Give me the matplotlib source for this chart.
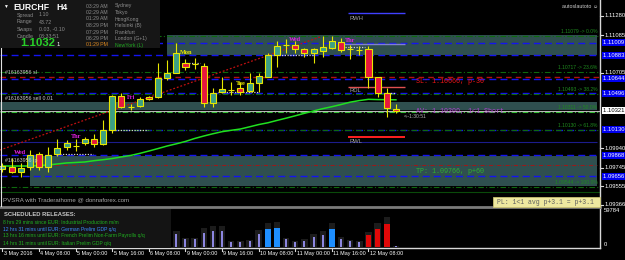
import numpy as np
import matplotlib
matplotlib.use("Agg")
import matplotlib.pyplot as plt
from matplotlib.patches import Rectangle
from matplotlib.transforms import blended_transform_factory

plt.rcParams["font.family"] = ["Liberation Sans", "DejaVu Sans"]

W, H = 625, 260

# ─── Datos (EURCHF H4, 3 May 16:00 -> 12 May 20:00) ──────────────────────────
opens = [1.09730, 1.09750, 1.09700, 1.09750, 1.09882, 1.09750, 1.09882, 1.09953, 1.09963, 1.09993,
         1.10034, 1.09983, 1.10125, 1.10470, 1.10358, 1.10368, 1.10459, 1.10459, 1.10652, 1.10702,
         1.10804, 1.10794, 1.10773, 1.10399, 1.10510, 1.10530, 1.10551, 1.10520, 1.10601, 1.10662,
         1.10885, 1.10986, 1.10986, 1.10946, 1.10905, 1.10925, 1.10956, 1.11017, 1.10946, 1.10936,
         1.10946, 1.10662, 1.10500, 1.10338]
highs = [1.09791, 1.09841, 1.09791, 1.09922, 1.09902, 1.09953, 1.10034, 1.10024, 1.10034, 1.10054,
         1.10085, 1.10226, 1.10480, 1.10500, 1.10389, 1.10459, 1.10470, 1.10804, 1.10834, 1.11006,
         1.10844, 1.10854, 1.10804, 1.10551, 1.10662, 1.10611, 1.10611, 1.10702, 1.10702, 1.10905,
         1.11027, 1.11047, 1.11027, 1.10956, 1.10956, 1.11077, 1.11077, 1.11057, 1.10986, 1.10976,
         1.10976, 1.10662, 1.10551, 1.10389]
lows = [1.09700, 1.09690, 1.09649, 1.09720, 1.09720, 1.09700, 1.09862, 1.09922, 1.09912, 1.09973,
        1.09953, 1.09973, 1.10095, 1.10348, 1.10328, 1.10358, 1.10429, 1.10449, 1.10632, 1.10702,
        1.10733, 1.10743, 1.10358, 1.10358, 1.10500, 1.10480, 1.10480, 1.10510, 1.10510, 1.10662,
        1.10763, 1.10905, 1.10905, 1.10865, 1.10804, 1.10865, 1.10946, 1.10915, 1.10844, 1.10885,
        1.10551, 1.10459, 1.10257, 1.10297]
closes = [1.09760, 1.09700, 1.09740, 1.09872, 1.09750, 1.09872, 1.09943, 1.09993, 1.09965, 1.10034,
          1.09983, 1.10125, 1.10470, 1.10358, 1.10360, 1.10439, 1.10439, 1.10652, 1.10702, 1.10905,
          1.10763, 1.10796, 1.10399, 1.10500, 1.10540, 1.10532, 1.10510, 1.10601, 1.10672, 1.10885,
          1.10976, 1.10988, 1.10946, 1.10905, 1.10946, 1.10966, 1.11027, 1.10936, 1.10948, 1.10938,
          1.10662, 1.10500, 1.10348, 1.10321]

# media móvil (línea verde)
ma_vals = [1.09760, 1.09760, 1.09760, 1.09760, 1.09765, 1.09771, 1.09781, 1.09791, 1.09796, 1.09801,
           1.09814, 1.09824, 1.09836, 1.09852, 1.09867, 1.09888, 1.09912, 1.09937, 1.09963, 1.09985,
           1.10009, 1.10039, 1.10064, 1.10087, 1.10108, 1.10122, 1.10135, 1.10157, 1.10180, 1.10198,
           1.10222, 1.10245, 1.10269, 1.10294, 1.10318, 1.10341, 1.10361, 1.10383, 1.10407, 1.10423,
           1.10436, 1.10433, 1.10432, 1.10431]

# volumen visible (barras 19..43), sombra y tipo (n normal, b climax alcista, r climax bajista)
vol_first = 19
volumes = [20450, 12580, 12580, 22020, 25170, 25170, 7870, 7870, 9440, 20450,
           28310, 29890, 12580, 7870, 9440, 15730, 18880, 28310, 12580, 9440,
           7870, 18880, 28310, 36180, 1570]
vol_shadow = [25170, 14160, 14160, 29890, 33030, 33030, 9440, 9440, 11010, 26740,
              37750, 39330, 14160, 9440, 12580, 20450, 25170, 37750, 15730, 11010,
              9440, 23600, 37750, 47190, 1570]
vol_kind = "nnnnnnnnnnbbnnnnnbnnnrrrn"
vol_max = 59784

date_ticks = [0, 4, 8, 12, 16, 20, 24, 28, 32, 36, 40]
date_labels = ["3 May 2016", "4 May 08:00", "5 May 00:00", "5 May 16:00", "6 May 08:00",
               "9 May 00:00", "9 May 16:00", "10 May 08:00", "11 May 00:00", "11 May 16:00",
               "12 May 08:00"]

axis_prices = [1.11280, 1.11085, 1.10705, 1.09940, 1.09745, 1.09555, 1.09366]
level_prices = [1.11009, 1.10883, 1.10644, 1.10496, 1.10130, 1.09868, 1.09656]
fib_prices = [1.11079, 1.10717, 1.10493, 1.10311, 1.10130, 1.09544]
fib_names = ["0.0%", "23.6%", "38.2%", "50.0%", "61.8%", "100.0%"]

zones = [(18.0, 65.0, 1.10885, 1.11087), (-0.3, 65.0, 1.10328, 1.10409), (3.0, 65.0, 1.09558, 1.09862)]
trend_x = [-0.27, 34.7]
trend_y = [1.09922, 1.11067]

# tramos punteados (aperturas de sesión)
seg_x0 = [5.96, 11.97, 20.05, 23.55, 28.7, 37.4, 41.8]
seg_x1 = [9.89, 15.9, 21.6, 27.9, 33.9, 39.6, 42.9]
seg_y = [1.09882, 1.10125, 1.10804, 1.10510, 1.10885, 1.10966, 1.10500]

day_names = ["Wed", "Thr", "Fri", "Mon", "Tue", "Wed", "Thr"]
day_x = [1.3, 7.5, 13.6, 19.4, 25.5, 31.3, 37.4]
day_y = [1.09892, 1.10064, 1.10459, 1.10915, 1.10601, 1.11037, 1.11027]
day_col = ["#e020e0", "#e020e0", "#e020e0", "#e8e800", "#e8e800", "#e020e0", "#e020e0"]

sl_price, tp_price, entry_price = 1.10666, 1.09766, 1.10309
rwh, rdl, rwl = 1.11310, 1.10561, 1.10054

# ─── Figura ─────────────────────────────────────────────────────────────────
fig = plt.figure(figsize=(W / 100, H / 100), dpi=100, facecolor="black")
X0, X1 = -0.27, 65.3
ax = fig.add_axes([0, (H - 206) / H, 600 / W, 206 / H], facecolor="black")
ax.set_xlim(X0, X1)
ax.set_ylim(1.09355, 1.11442)
ax.axis("off")


def px(x, y):
    return x / W, 1 - y / H


MONO = "Liberation Mono"

for xa, xb, ya, yb in zones:
    ax.add_patch(Rectangle((xa, ya), xb - xa, yb - ya, color="#2f4f4f", lw=0, zorder=1))

for p in level_prices:
    ax.hlines(p, X0, X1, colors="#1414f0", lw=1.0, linestyles=(0, (5, 3)), zorder=2)
ax.hlines(1.10003, X0, 65.0, colors="#1c1c8c", lw=0.8, zorder=2)
for p, name in zip(fib_prices, fib_names):
    col = "#30c030" if name == "50.0%" else "#0e6a0e"
    ax.hlines(p, X0, X1, colors=col, lw=0.8, linestyles=(0, (5, 2, 1, 2)), zorder=2)
    ax.text(65.0, p + 0.0002, f"{p:.5f} -> {name}", color="#1f8a1f", fontsize=3.6,
            ha="right", va="bottom", zorder=6)
ax.hlines(1.09498, X0, X1, colors="#0a4a0a", lw=0.8, zorder=2)
ax.hlines(sl_price, X0, X1, colors="#b01010", lw=1.0, linestyles=(0, (4, 3)), zorder=3)
ax.hlines(tp_price, 3.0, 65.0, colors="#b01010", lw=0.6, linestyles=(0, (5, 2, 1, 2)), zorder=3)
ax.hlines(closes[-1], X0, X1, colors="#b8b8b8", lw=0.8, zorder=3)

ax.hlines(rwh, 37.8, 44.0, colors="#4040ff", lw=1.0, zorder=3)
ax.hlines(rdl, 37.8, 44.0, colors="#e05050", lw=1.0, zorder=3)
ax.hlines(rwl, 37.8, 44.0, colors="#ff2020", lw=1.4, zorder=3)
ax.hlines(1.11000, 37.0, 44.0, colors="#8080d0", lw=1.0, zorder=3)
ax.hlines(seg_y, seg_x0, seg_x1, colors="#d0d0d0", lw=0.9, linestyles=(0, (1, 1.2)), zorder=4)

ax.plot(trend_x, trend_y, color="#c01010", lw=0.9, ls=(0, (1.5, 1.5)), zorder=4)
ax.plot(range(len(ma_vals)), ma_vals, color="#20e020", lw=1.1, zorder=5)

# velas
for i, (o, h, l, c) in enumerate(zip(opens, highs, lows, closes)):
    face = "#3c9f84" if c >= o else "#e8173e"
    ax.vlines(i, l, h, colors="#e8e800", lw=0.8, zorder=6)
    lo, hi = min(o, c), max(o, c)
    ax.add_patch(Rectangle((i - 0.33, lo), 0.66, max(hi - lo, 0.00001), facecolor=face,
                           edgecolor="#e8e800", lw=0.8, zorder=7))

for name, x, y, col in zip(day_names, day_x, day_y, day_col):
    ax.text(x, y, name, color=col, fontsize=4.5, fontweight="bold", family="Liberation Serif",
            ha="left", va="center", zorder=8)

# textos de órdenes y niveles
ax.text(0.3, sl_price + 0.0002, "#16163956 sl", color="#c8c8c8", fontsize=3.8, va="bottom", zorder=8)
ax.text(0.3, 1.10409 + 0.0001, "#16163956 sell 0.01", color="#c8c8c8", fontsize=3.8, va="bottom", zorder=8)
ax.text(0.3, tp_price + 0.0002, "#16163956 tp", color="#c8c8c8", fontsize=3.8, va="bottom", zorder=8)
ax.text(37.9, rwh - 0.0003, "RWH", color="#a0a0a0", fontsize=4.2, va="top", zorder=8)
ax.text(37.9, rdl - 0.0001, "RDL", color="#a0a0a0", fontsize=4.2, va="top", zorder=8)
ax.text(37.9, rwl - 0.0002, "RWL", color="#a0a0a0", fontsize=4.2, va="top", zorder=8)
ax.text(45.2, sl_price - 0.00015, "SL: 1.10666, p-30", color="#ee1515", fontsize=4.9,
        family=MONO, va="top", zorder=8)
ax.text(45.2, tp_price - 0.00025, "TP: 1.09766, p+60", color="#30b030", fontsize=4.9,
        family=MONO, va="top", zorder=8)
ax.text(45.2, entry_price, "AV: 1.10309, 1<1 Short", color="#b040d0", fontsize=4.9,
        family=MONO, va="center", zorder=8)
ax.text(43.8, entry_price - 0.0002, "<--1:30:51", color="#b0b0b0", fontsize=3.6, va="top", zorder=8)

# ─── Volumen ───────────────────────────────────────────────────────────────
vax = fig.add_axes([0, (H - 248) / H, 600 / W, 40 / H], facecolor="black")
vax.set_xlim(X0, X1)
vax.set_ylim(-1600, 61350)
vax.axis("off")
vidx = np.arange(vol_first, vol_first + len(volumes))
vax.bar(vidx, vol_shadow, width=0.7, color="#1c1c1c", zorder=1)
for i, v, k in zip(vidx, volumes, vol_kind):
    if k == "n":
        vax.bar(i, v, width=0.22, color="#8c86e0", zorder=2)
    else:
        vax.bar(i, v, width=0.6, color="#1e8fff" if k == "b" else "#e00808", zorder=2)

# ─── Marco, ejes y etiquetas ─────────────────────────────────────────────────
fig.add_artist(plt.Line2D([600 / W] * 2, [1 - 248 / H, 1], color="#d8d8d8", lw=1))
fig.add_artist(plt.Line2D([0, 600 / W], [1 - 248 / H] * 2, color="#d8d8d8", lw=1))
fig.add_artist(plt.Line2D([0, 600 / W], [1 - 207 / H] * 2, color="#7a7a7a", lw=2))
fig.add_artist(plt.Line2D([1.5 / W] * 2, [1 - 206 / H, 1 - 48 / H], color="#e0e0e0", lw=0.8))

tr = blended_transform_factory(fig.transFigure, ax.transData)
for p in axis_prices:
    fig.add_artist(plt.Line2D([600 / W, 603 / W], [p, p], transform=tr, color="#d8d8d8", lw=0.8))
    fig.text(605 / W, p, f"{p:.5f}", transform=tr, color="white", fontsize=4.2, va="center")
for p in level_prices:
    fig.text(603 / W, p, f"{p:.5f} ", transform=tr, color="white", fontsize=4.2, va="center",
             bbox=dict(boxstyle="square,pad=0.15", fc="#0000f0", ec="none"))
fig.text(603 / W, closes[-1], f"{closes[-1]:.5f} ", transform=tr, color="black", fontsize=4.2,
         va="center", bbox=dict(boxstyle="square,pad=0.15", fc="white", ec="none"))
fig.text(*px(604, 211), str(vol_max), color="white", fontsize=4.2, va="center")
fig.text(*px(604, 244), "0", color="white", fontsize=4.2, va="center")

dtr = blended_transform_factory(vax.transData, fig.transFigure)
for t, lab in zip(date_ticks, date_labels):
    fig.add_artist(plt.Line2D([t, t], [1 - 248 / H, 1 - 251 / H], transform=dtr, color="#d8d8d8", lw=0.8))
    fig.text(t + 0.15, 1 - 253.5 / H, lab, transform=dtr, color="white", fontsize=3.9, va="center")

# panel superior izquierdo
fig.add_artist(Rectangle((0, 1 - 48 / H), 160 / W, 48 / H, transform=fig.transFigure,
                         color="#161616", lw=0, zorder=5))
fig.text(*px(3, 6), "▼", color="white", fontsize=3.5, va="center", zorder=6)
fig.text(*px(13, 7), "EURCHF", color="white", fontsize=6.2, fontweight="bold", va="center", zorder=6)
fig.text(*px(56, 7), "H4", color="white", fontsize=6.2, fontweight="bold", va="center", zorder=6)
for k, (lab, val) in enumerate(zip(["Spread", "Range", "Swaps", "Candle"],
                                   ["1.10", "43.72", "0.03, -0.10", "03:33:51"])):
    fig.text(*px(17, 15 + 7 * k), lab, color="#8c8c8c", fontsize=3.8, va="center", zorder=6)
    fig.text(*px(39, 15 + 7 * k), val, color="#8c8c8c", fontsize=3.8, va="center", zorder=6)
fig.text(*px(20, 43.5), "1.1032", color="#28d028", fontsize=8.2, fontweight="bold", va="center", zorder=6)
fig.text(*px(57, 45), "1", color="white", fontsize=4.2, va="center", zorder=6)
times = ["03:29 AM", "02:29 AM", "01:29 AM", "08:29 PM", "07:29 PM", "06:29 PM", "01:29 PM"]
cities = ["Sydney", "Tokyo", "HongKong", "Helsinki (B)", "Frankfurt", "London (G+1)", "NewYork (L)"]
for k, (t, c) in enumerate(zip(times, cities)):
    last = k == len(times) - 1
    fig.text(*px(86, 6 + 6.5 * k), t, color="#e08a20" if last else "#8c8c8c", fontsize=3.7,
             va="center", zorder=6)
    fig.text(*px(115, 6 + 6.5 * k), c, color="#20a820" if last else "#8c8c8c", fontsize=3.7,
             va="center", zorder=6)

fig.text(*px(562, 7), "autoslautoto ☺", color="#d0d0d0", fontsize=3.8, va="center")
fig.text(*px(3, 200), "PVSRA with Traderathome @ donnaforex.com", color="#a8a8a8", fontsize=4.4, va="center")
fig.add_artist(Rectangle((493 / W, 1 - 207 / H), 107 / W, 10 / H, transform=fig.transFigure,
                         fc="#eee8a0", ec="#c8c070", lw=0.6, zorder=5))
fig.text(*px(497, 202), "PL: 1<1 avg p+3.1 = p+3.1", color="#606060", fontsize=4.7,
         family=MONO, va="center", zorder=6)

# panel de eventos
fig.add_artist(Rectangle((0, 1 - 248 / H), 171 / W, 39 / H, transform=fig.transFigure,
                         color="#141414", lw=0, zorder=5))
fig.text(*px(4, 215), "SCHEDULED RELEASES:", color="#c8c8c8", fontsize=4.2, fontweight="bold",
         va="center", zorder=6)
events = ["8 hrs 29 mins since EUR: Industrial Production m/m",
          "12 hrs 31 mins until EUR: German Prelim GDP q/q",
          "13 hrs 16 mins until EUR: French Prelim Non-Farm Payrolls q/q",
          "14 hrs 31 mins until EUR: Italian Prelim GDP q/q"]
ev_col = ["#20b020", "#3a8cff", "#20b020", "#20b020"]
for k, (e, c) in enumerate(zip(events, ev_col)):
    fig.text(*px(3, 222 + 7 * k), e, color=c, fontsize=3.6, va="center", zorder=6)

fig.savefig("out.png", dpi=100, facecolor="black")
